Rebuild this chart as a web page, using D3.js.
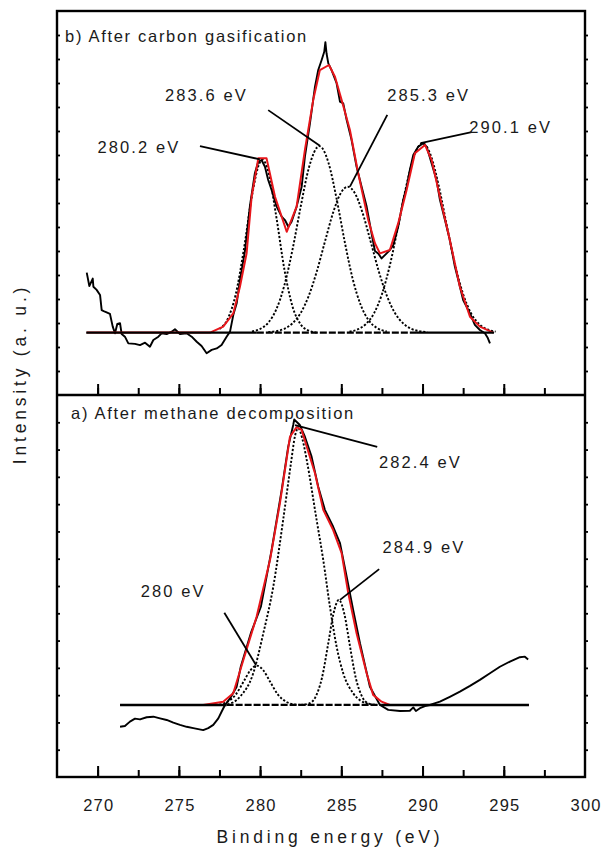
<!DOCTYPE html>
<html><head><meta charset="utf-8">
<script src="https://cdn.jsdelivr.net/npm/d3@7"></script>
<style>
body{margin:0;background:#fff}
svg text{font-family:"Liberation Sans",Arial,sans-serif;fill:#1a1a1a}
</style>
</head><body><svg id="c" width="601" height="849"></svg>
<script>
// ---------- DATA ----------
const xMajorTicks = [270, 275, 280, 285, 290, 295, 300];
const xMinorTicks = [270, 272.5, 275, 277.5, 280, 282.5, 285, 287.5, 290, 292.5, 295, 297.5];
const xTickLabels = ["270", "275", "280", "285", "290", "295", "300"];
const xTitle = "Binding energy (eV)";
const yTitle = "Intensity (a. u.)";
const panelTitles = ["b) After carbon gasification", "a) After methane decomposition"];

// Panel b (top): experimental spectrum [eV, intensity]
const topExp = [[269.33,510],[269.49,454],[269.70,485],[269.74,451],[269.94,438],[270.15,417],[270.25,354],[270.45,347],[270.76,338],[270.93,285],[271.07,257],[271.21,296],[271.38,299],[271.48,254],[271.68,243],[271.89,215],[272.30,213],[272.61,208],[272.92,218],[273.22,201],[273.43,229],[273.74,243],[273.94,257],[274.25,254],[274.56,264],[274.76,274],[275.07,254],[275.48,257],[275.79,243],[276.10,222],[276.40,204],[276.71,174],[277.02,188],[277.33,194],[277.63,208],[277.94,243],[278.15,264],[278.35,333],[278.56,382],[278.76,479],[279.07,600],[279.38,790],[279.68,924],[279.89,972],[280.09,979],[280.30,951],[280.50,896],[280.71,854],[281.02,785],[281.33,743],[281.53,729],[281.74,701],[281.94,722],[282.25,785],[282.56,868],[282.76,993],[283.07,1132],[283.38,1285],[283.58,1354],[283.79,1396],[283.95,1430],[284.02,1470],[284.09,1424],[284.20,1382],[284.40,1354],[284.71,1299],[284.92,1222],[285.12,1215],[285.33,1146],[285.63,1063],[285.94,951],[286.25,868],[286.56,785],[286.86,674],[287.07,600],[287.27,590],[287.48,569],[287.79,590],[287.99,604],[288.20,625],[288.50,701],[288.81,813],[289.02,868],[289.22,938],[289.43,1000],[289.74,1035],[290.04,1049],[290.25,1035],[290.56,965],[290.86,896],[291.07,813],[291.38,729],[291.68,646],[291.99,535],[292.20,479],[292.50,396],[292.92,340],[293.22,292],[293.53,271],[293.84,257],[294.00,240],[294.15,215]];
// Panel b: fitted envelope
const topFit = [[269.33,260],[276.92,260],[277.73,285],[278.35,340],[278.76,451],[279.17,590],[279.48,826],[279.89,986],[280.40,986],[280.92,826],[281.64,680],[282.25,785],[282.76,1021],[283.27,1229],[283.68,1354],[284.24,1375],[284.61,1326],[285.02,1229],[285.53,1104],[286.04,924],[286.66,729],[287.07,632],[287.38,590],[287.99,604],[288.50,715],[289.02,854],[289.53,1007],[290.15,1042],[290.56,979],[291.07,826],[291.68,646],[292.30,451],[292.92,326],[293.53,285],[294.35,260]];
// Panel b: component peaks
const topPeak1 = [[277.5,275],[278.0,316],[278.5,419],[279.0,606],[279.5,830],[280.0,971],[280.15,980],[280.5,933],[281.0,742],[281.5,522],[282.0,368],[282.5,294],[283.0,268],[283.5,260]];
const topPeak2 = [[279.5,265],[280.0,275],[280.5,301],[281.0,357],[281.5,458],[282.0,607],[282.5,785],[283.0,946],[283.65,1037],[284.2,970],[284.7,821],[285.2,642],[285.7,484],[286.2,374],[286.7,310],[287.2,279],[287.8,265]];
const topPeak3 = [[280.5,262],[281.0,266],[281.5,276],[282.0,299],[282.5,342],[283.0,414],[283.5,517],[284.0,641],[284.5,761],[285.0,845],[285.4,868],[285.8,845],[286.3,761],[286.8,641],[287.3,517],[287.8,414],[288.3,342],[288.8,299],[289.3,276],[289.8,266],[290.3,262]];
const topPeak4 = [[285.5,264],[286.0,273],[286.5,295],[287.0,339],[287.5,420],[288.0,544],[288.5,704],[289.0,871],[289.5,1000],[290.0,1049],[290.5,1000],[291.0,871],[291.5,704],[292.0,544],[292.5,420],[293.0,339],[293.5,295],[294.0,273],[294.5,264]];
const topBaseSolid = [[[269.3,260],[279.8,260]], [[289.6,260],[294.4,260]]];
const topBaseDashed = [[279.8,260],[289.6,260]];

// Panel a (bottom): experimental spectrum
const botExp = [[271.38,184],[271.68,187],[271.99,203],[272.30,214],[272.61,211],[273.02,219],[273.43,221],[273.84,215],[274.25,209],[274.66,199],[275.07,191],[275.48,184],[275.89,179],[276.50,172],[276.81,179],[277.12,191],[277.43,215],[277.63,239],[277.84,264],[278.15,288],[278.56,331],[278.81,404],[279.43,527],[280.05,624],[280.71,832],[281.33,1052],[281.73,1210],[282.04,1290],[282.10,1310],[282.45,1290],[282.76,1247],[283.17,1174],[283.58,1064],[283.99,979],[284.50,917],[284.92,857],[285.33,734],[285.73,612],[286.15,490],[286.76,331],[287.38,264],[287.89,246],[288.61,242],[289.22,243],[289.43,255],[289.59,242],[289.84,252],[290.15,260],[290.45,264],[291.07,276],[291.68,294],[292.30,313],[292.92,334],[293.53,356],[294.15,380],[294.76,404],[295.38,423],[295.99,439],[296.30,441],[296.50,431]];
const botFit = [[271.38,264],[276.50,264],[277.73,276],[278.35,307],[278.97,429],[279.79,588],[280.61,795],[281.22,1003],[281.84,1247],[282.25,1282],[282.56,1272],[282.87,1211],[283.38,1113],[283.89,979],[284.50,905],[285.02,820],[285.43,673],[285.94,527],[286.56,380],[286.96,301],[287.48,276],[287.99,264],[296.55,264]];
const botPeak1 = [[277.0,264],[277.5,266],[278.0,276],[278.5,302],[279.0,351],[279.4,391],[279.8,408],[280.2,391],[280.6,351],[281.1,302],[281.6,276],[282.1,266],[282.6,264]];
const botPeak2 = [[277.5,264],[277.94,266],[278.76,294],[279.58,380],[280.2,527],[280.81,697],[281.42,942],[281.9,1150],[282.15,1250],[282.35,1278],[282.6,1240],[282.87,1162],[283.48,942],[283.89,795],[284.3,624],[284.71,478],[285.12,380],[285.73,307],[286.56,270],[287.2,264]];
const botPeak3 = [[282.5,264],[283.0,269],[283.4,292],[283.8,361],[284.2,491],[284.5,594],[284.85,649],[285.2,594],[285.5,491],[285.9,361],[286.3,292],[286.7,269],[287.2,264]];
const botBaseSolid = [[[271.38,264],[277.94,264]], [[287.5,264],[296.55,264]]];
const botBaseDashed = [[277.94,264],[287.5,264]];

// annotations: label, label anchor [eV,int], pointer from, pointer to
const topNotes = [
  {label:"280.2 eV", at:[269.99,1007], from:[276.30,1037], to:[279.99,982]},
  {label:"283.6 eV", at:[274.15,1226], from:[280.50,1187], to:[283.68,1039]},
  {label:"285.3 eV", at:[287.83,1225], from:[287.83,1167], to:[285.53,868]},
  {label:"290.1 eV", at:[292.87,1093], from:[289.88,1049], to:[293.02,1095]}
];
const botNotes = [
  {label:"282.4 eV", at:[287.32,1131], from:[282.15,1290], to:[287.21,1210]},
  {label:"284.9 eV", at:[287.54,820], from:[287.33,762], to:[284.92,649]},
  {label:"280 eV", at:[272.65,661], from:[277.80,602], to:[279.75,410]}
];

// ---------- DRAW ----------
const svg = d3.select('#c');
const L = 57, R = 585, T = 11, M = 395, B = 777;
const x = d3.scaleLinear().domain([267.5, 300]).range([L, R]);
const yTop = d3.scaleLinear().domain([0, 1600]).range([M, T]);
const yBot = d3.scaleLinear().domain([0, 1400]).range([B, M]);

function panel(y, exp, fit, peaks, baseSolid, baseDashed, notes, title, titleX, titleY, yBottom) {
  const g = svg.append('g');
  const lineLin = d3.line().x(d => x(d[0])).y(d => y(d[1]));
  const lineSmooth = d3.line().x(d => x(d[0])).y(d => y(d[1])).curve(d3.curveMonotoneX);
  // components
  peaks.forEach(p => g.append('path').attr('d', lineSmooth(p)).attr('fill','none')
    .attr('stroke','#000').attr('stroke-width',1.9).attr('stroke-dasharray','2.2,1.8'));
  // experimental
  g.append('path').attr('d', lineLin(exp)).attr('fill','none').attr('stroke','#000')
    .attr('stroke-width',1.9).attr('stroke-linejoin','round');
  // fit
  g.append('path').attr('d', lineLin(fit)).attr('fill','none').attr('stroke','#e8161b')
    .attr('stroke-width',2).attr('stroke-linejoin','round');
  // baseline
  baseSolid.forEach(s => g.append('path').attr('d', lineLin(s)).attr('stroke','#000').attr('stroke-width',2.4));
  g.append('path').attr('d', lineLin(baseDashed)).attr('stroke','#000').attr('stroke-width',2.2)
    .attr('stroke-dasharray','7,2');
  // annotations
  notes.forEach(n => {
    g.append('line').attr('x1', x(n.from[0])).attr('y1', y(n.from[1]))
      .attr('x2', x(n.to[0])).attr('y2', y(n.to[1])).attr('stroke','#000').attr('stroke-width',1.8);
    g.append('text').attr('x', x(n.at[0])).attr('y', y(n.at[1])).text(n.label)
      .attr('font-size', 16.5).style('letter-spacing','2.1px');
  });
  g.append('text').attr('x', titleX).attr('y', titleY).text(title)
    .attr('font-size', 16.5).style('letter-spacing','1.7px');
  // x ticks (pointing up, inside)
  g.append('g').attr('transform', `translate(0,${yBottom})`)
    .call(d3.axisTop(x).tickValues(xMinorTicks).tickSize(7).tickFormat(''))
    .call(a => a.select('.domain').remove())
    .selectAll('line').attr('stroke-width', 2);
  g.append('g').attr('transform', `translate(0,${yBottom})`)
    .call(d3.axisTop(x).tickValues(xMajorTicks.filter(v => v < 300)).tickSize(11).tickFormat(''))
    .call(a => a.select('.domain').remove())
    .selectAll('line').attr('stroke-width', 2);
  // y ticks on both sides
  const yt = d3.range(100, y.domain()[1], 100);
  [L, R].forEach(px => {
    g.append('g').attr('transform', `translate(${px},0)`)
      .call(d3.axisRight(y).tickValues(yt).tickSize(3).tickFormat(''))
      .call(a => a.select('.domain').remove())
      .selectAll('line').attr('stroke-width', 1.8);
  });
}

panel(yTop, topExp, topFit, [topPeak1, topPeak2, topPeak3, topPeak4], topBaseSolid, topBaseDashed,
      topNotes, panelTitles[0], 65, 41.5, M);
panel(yBot, botExp, botFit, [botPeak1, botPeak2, botPeak3], botBaseSolid, botBaseDashed,
      botNotes, panelTitles[1], 71, 418.5, B);

// frame
svg.append('rect').attr('x', L).attr('y', T).attr('width', R - L).attr('height', B - T)
  .attr('fill','none').attr('stroke','#000').attr('stroke-width', 2.4);
svg.append('line').attr('x1', L).attr('x2', R).attr('y1', M).attr('y2', M)
  .attr('stroke','#000').attr('stroke-width', 2.4);

// x tick labels
const xl = svg.append('g').attr('transform', `translate(0,${B})`)
  .call(d3.axisBottom(x).tickValues(xMajorTicks).tickSize(0).tickPadding(22)
        .tickFormat((d, i) => xTickLabels[i]));
xl.select('.domain').remove();
xl.selectAll('text').attr('font-size', 16.5).attr('fill', '#1a1a1a')
  .attr('font-family', '"Liberation Sans",Arial,sans-serif').style('letter-spacing','1.2px')
  .attr('dx', '0.6');

// axis titles
svg.append('text').attr('x', 330).attr('y', 842.5).attr('text-anchor','middle')
  .attr('font-size', 17.5).style('letter-spacing','3.8px').text(xTitle);
svg.append('text').attr('transform', 'translate(26,374) rotate(-90)').attr('text-anchor','middle')
  .attr('font-size', 17.5).style('letter-spacing','3.8px').text(yTitle);
</script>
</body></html>
